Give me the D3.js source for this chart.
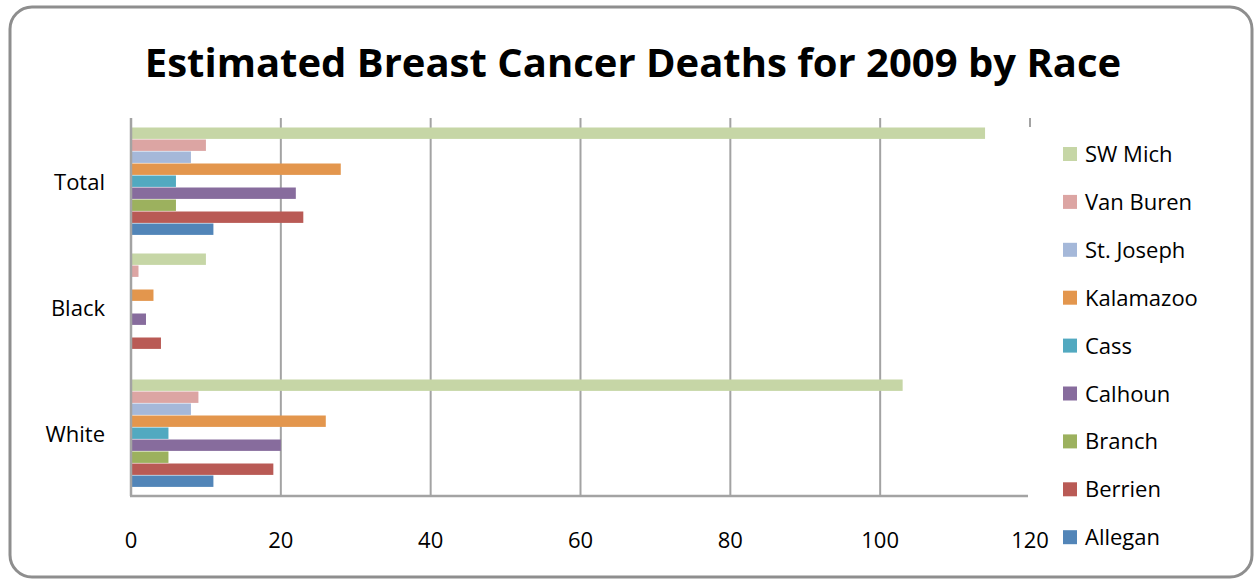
<!DOCTYPE html>
<html>
<head>
<meta charset="utf-8">
<script src="https://cdn.jsdelivr.net/npm/d3@7"></script>
<style>
  body { margin: 0; background: #fff; }
  svg { display: block; font-family: "Open Sans", Lato, sans-serif; }
</style>
</head>
<body>
<script>
// data
const categories = ['Total', 'Black', 'White'];
const seriesNames = ['Allegan', 'Berrien', 'Branch', 'Calhoun', 'Cass', 'Kalamazoo', 'St. Joseph', 'Van Buren', 'SW Mich'];
const seriesColors = ['#5285b8', '#b95a55', '#9cb15e', '#876c9d', '#52a9c0', '#e3964d', '#a5b8d9', '#dca5a3', '#c6d6a6'];
// values per series, in the order of categories (Total, Black, White)
const allegan   = [11, 0, 11];
const berrien   = [23, 4, 19];
const branch    = [6, 0, 5];
const calhoun   = [22, 2, 20];
const cass      = [6, 0, 5];
const kalamazoo = [28, 3, 26];
const stJoseph  = [8, 0, 8];
const vanBuren  = [10, 1, 9];
const swMich    = [114, 10, 103];
const xTicks = [0, 20, 40, 60, 80, 100, 120];

const seriesValues = [allegan, berrien, branch, calhoun, cass, kalamazoo, stJoseph, vanBuren, swMich];

const W = 1254, H = 580;
const plot = {left: 131, right: 1030, top: 118, bottom: 496};

const svg = d3.select('body').append('svg')
  .attr('width', W)
  .attr('height', H);

// chart frame
svg.append('rect')
  .attr('x', 10).attr('y', 7)
  .attr('width', 1242).attr('height', 570)
  .attr('rx', 22).attr('ry', 22)
  .attr('fill', '#fff')
  .attr('stroke', '#8e8e8e')
  .attr('stroke-width', 3);

svg.append('text')
  .attr('x', 633).attr('y', 77)
  .attr('text-anchor', 'middle')
  .style('font-size', '40px')
  .style('font-weight', 'bold')
  .attr('fill', '#000')
  .text('Estimated Breast Cancer Deaths for 2009 by Race');

const x = d3.scaleLinear().domain([0, 120]).range([plot.left, plot.right]);
const y = d3.scaleBand().domain(categories).range([plot.top, plot.bottom]);
const yInner = d3.scaleBand()
  .domain(seriesNames.slice().reverse())
  .range([0, y.bandwidth()])
  .paddingInner(0)
  .paddingOuter(0.75);

// gridlines
svg.append('g')
  .selectAll('line')
  .data(xTicks.slice(1))
  .enter().append('line')
  .attr('x1', d => x(d)).attr('x2', d => x(d))
  .attr('y1', plot.top).attr('y2', plot.bottom)
  .attr('stroke', '#a3a3a3')
  .attr('stroke-width', 2);

// bars
const rows = [];
seriesNames.forEach((s, i) => {
  categories.forEach((c, j) => {
    rows.push({series: s, cat: c, value: seriesValues[i][j], color: seriesColors[i]});
  });
});

svg.append('g')
  .selectAll('rect')
  .data(rows.filter(d => d.value > 0))
  .enter().append('rect')
  .attr('x', x(0))
  .attr('y', d => y(d.cat) + yInner(d.series) + 0.5)
  .attr('width', d => x(d.value) - x(0))
  .attr('height', yInner.bandwidth() - 0.6)
  .attr('fill', d => d.color);

// axes lines
svg.append('line')
  .attr('x1', x(0)).attr('x2', x(0))
  .attr('y1', plot.top).attr('y2', plot.bottom)
  .attr('stroke', '#a3a3a3').attr('stroke-width', 2.5);
svg.append('line')
  .attr('x1', x(0) - 1).attr('x2', plot.right)
  .attr('y1', plot.bottom).attr('y2', plot.bottom)
  .attr('stroke', '#a3a3a3').attr('stroke-width', 2.5);

// legend (its white box covers the end of the 120 gridline)
const legendBox = svg.append('g');
legendBox.append('rect')
  .attr('x', 1028).attr('y', 127)
  .attr('width', 200).attr('height', 430)
  .attr('fill', '#fff');

const legend = legendBox.selectAll('.legend')
  .data(seriesNames.slice().reverse())
  .enter().append('g')
  .attr('class', 'legend')
  .attr('transform', (d, i) => `translate(1063,${154 + i * 47.9})`);

legend.append('rect')
  .attr('x', 0).attr('y', -7)
  .attr('width', 14).attr('height', 14)
  .attr('fill', d => seriesColors[seriesNames.indexOf(d)]);

legend.append('text')
  .attr('x', 22).attr('y', 8)
  .style('font-size', '22px')
  .text(d => d);

// x tick labels
svg.append('g')
  .selectAll('text')
  .data(xTicks)
  .enter().append('text')
  .attr('x', d => x(d))
  .attr('y', 548)
  .attr('text-anchor', 'middle')
  .style('font-size', '22px')
  .text(d => d);

// category labels
svg.append('g')
  .selectAll('text')
  .data(categories)
  .enter().append('text')
  .attr('x', 105)
  .attr('y', d => y(d) + y.bandwidth() / 2 + 9)
  .attr('text-anchor', 'end')
  .style('font-size', '22px')
  .text(d => d);
</script>
</body>
</html>
